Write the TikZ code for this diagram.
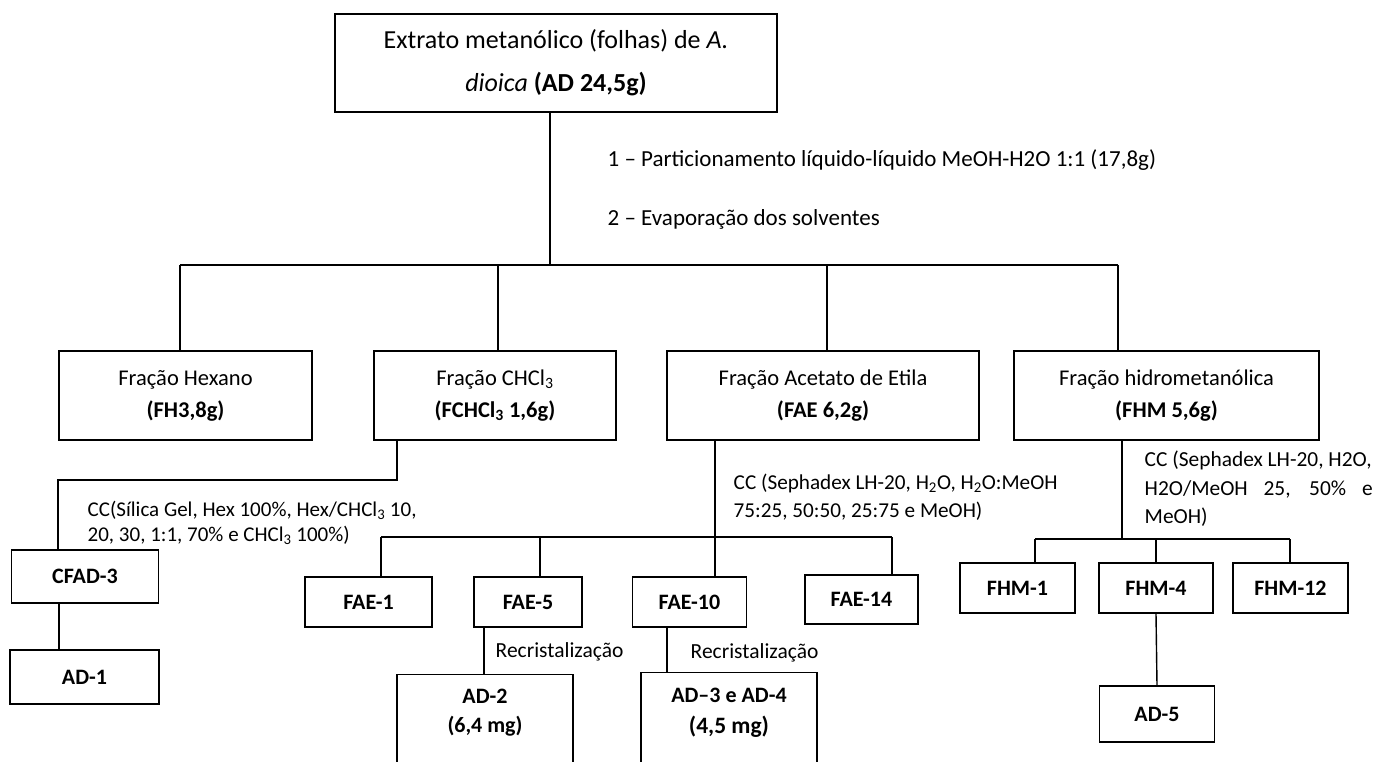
\documentclass[tikz,border=0pt]{standalone}
\usepackage{fontspec}
\setmainfont{Carlito}
\begin{document}
\begin{tikzpicture}[x=1pt,y=-1pt,line width=1.4pt,
  box/.style={draw,line width=1.4pt,inner sep=0pt,align=center},
  lvltwo/.style={box,minimum height=89,font=\fontsize{22.5}{32}\selectfont},
  sbox/.style={box,font=\fontsize{22}{26}\selectfont\bfseries},
  lbl/.style={inner sep=0pt,align=left,anchor=west},
  smalltxt/.style={lbl,font=\fontsize{21.2}{28}\selectfont}]
\useasboundingbox (0,0) rectangle (1374,762);
% boxes
\node[box,minimum width=442,minimum height=98,font=\fontsize{26}{43}\selectfont] (top) at (556,63)
  {Extrato metanólico (folhas) de \textit{A.}\\\textit{dioica} \textbf{(AD 24,5g)}};
\node[lvltwo,minimum width=253] (hex) at (185.5,395.5) {Fração Hexano\\\textbf{(FH3,8g)}};
\node[lvltwo,minimum width=242] (chcl) at (495,395.5) {Fração CHCl\textsubscript{3}\\\textbf{(FCHCl\textsubscript{3} 1,6g)}};
\node[lvltwo,minimum width=312] (ae) at (823,395.5) {Fração Acetato de Etila\\\textbf{(FAE 6,2g)}};
\node[lvltwo,minimum width=305] (hm) at (1166.5,395.5) {Fração hidrometanólica\\\textbf{(FHM 5,6g)}};
\node[sbox,minimum width=147,minimum height=53] (cfad) at (85,576.5) {CFAD-3};
\node[sbox,minimum width=149,minimum height=54] (ad1) at (84.5,677) {AD-1};
\node[sbox,minimum width=127,minimum height=50] (fae1) at (368.5,602) {FAE-1};
\node[sbox,minimum width=108,minimum height=50] (fae5) at (528,602) {FAE-5};
\node[sbox,minimum width=114,minimum height=50] (fae10) at (689.5,602) {FAE-10};
\node[sbox,minimum width=113,minimum height=49] (fae14) at (861.5,599.5) {FAE-14};
\node[sbox,minimum width=115,minimum height=50] (fhm1) at (1017.5,588) {FHM-1};
\node[sbox,minimum width=114,minimum height=50] (fhm4) at (1156,588) {FHM-4};
\node[sbox,minimum width=115,minimum height=50] (fhm12) at (1290.5,588) {FHM-12};
\node[sbox,minimum width=115,minimum height=56] (ad5) at (1157,714) {AD-5};
\node[box,minimum width=176,minimum height=130,anchor=north] (ad2) at (485,674) {};
\node[inner sep=0pt,align=center,font=\fontsize{22}{29}\selectfont\bfseries] (ad2t) at (485,713) {AD-2\\(6,4 mg)};
\node[box,minimum width=176,minimum height=130,anchor=north] (ad34) at (729,672) {};
\node[inner sep=0pt,align=center,font=\fontsize{22}{31}\selectfont\bfseries] (ad34t) at (729,713) {AD–3 e AD-4\\{\fontsize{23.5}{31}\selectfont (4,5 mg)}};
% texts
\node[lbl,font=\fontsize{23}{28}\selectfont] (t1) at (607,160) {1 – Particionamento líquido-líquido MeOH-H2O 1:1 (17,8g)};
\node[lbl,font=\fontsize{23}{28}\selectfont] (t2) at (607,219) {2 – Evaporação dos solventes};
\node[smalltxt,font=\fontsize{21}{25}\selectfont] (cc1) at (87,523) {CC(Sílica Gel, Hex 100\%, Hex/CHCl\textsubscript{3} 10,\\20, 30, 1:1, 70\% e CHCl\textsubscript{3} 100\%)};
\node[smalltxt] (cc2) at (733,497) {CC (Sephadex LH-20, H\textsubscript{2}O, H\textsubscript{2}O:MeOH\\75:25, 50:50, 25:75 e MeOH)};
\node[smalltxt,font=\fontsize{21.4}{28.5}\selectfont] (cc3) at (1144,489) {CC (Sephadex LH-20, H2O,\\\makebox[228pt][s]{H2O/MeOH 25, 50\% e}\\MeOH)};
\node[lbl,font=\fontsize{21.5}{26}\selectfont] (r1) at (495,652) {Recristalização};
\node[lbl,font=\fontsize{21.5}{26}\selectfont] (r2) at (690,653) {Recristalização};
% connectors level 1
\coordinate (j0) at (550,265);
\coordinate (jl) at (180,265);
\coordinate (jr) at (1118,265);
\coordinate (jc) at (498,265);
\coordinate (ja) at (827,265);
\draw (top.south -| j0) -- (j0);
\draw (jl) -- (jr);
\draw (jl) -- (jl |- hex.north);
\draw (jc) -- (jc |- chcl.north);
\draw (ja) -- (ja |- ae.north);
\draw (jr) -- (jr |- hm.north);
% CHCl3 branch
\coordinate (c1) at (397,480);
\coordinate (c2) at (58,480);
\coordinate (c3) at (59,620);
\draw (c1 |- chcl.south) -- (c1) -- (c2) -- (c2 |- cfad.north);
\draw (c3 |- cfad.south) -- (c3 |- ad1.north);
% AE branch
\coordinate (a0) at (715,537);
\coordinate (a1) at (381,537);
\coordinate (a2) at (540,537);
\coordinate (a3) at (892,537);
\coordinate (a4) at (484,650);
\coordinate (a5) at (667,650);
\draw (a0 |- ae.south) -- (a0 |- fae10.north);
\draw (a1) -- (a3);
\draw (a1) -- (a1 |- fae1.north);
\draw (a2) -- (a2 |- fae5.north);
\draw (a3) -- (a3 |- fae14.north);
\draw (a4 |- fae5.south) -- (a4 |- ad2.north);
\draw (a5 |- fae10.south) -- (a5 |- ad34.north);
% HM branch
\coordinate (h0) at (1122,539);
\coordinate (h1) at (1035,539);
\coordinate (h3) at (1290,539);
\draw (h0 |- hm.south) -- (h0);
\draw (h1) -- (h3);
\draw (h1) -- (h1 |- fhm1.north);
\draw (fhm4.north |- h0) -- (fhm4.north);
\draw (h3) -- (h3 |- fhm12.north);
\draw (fhm4.south) -- (ad5.north);
\end{tikzpicture}
\end{document}
